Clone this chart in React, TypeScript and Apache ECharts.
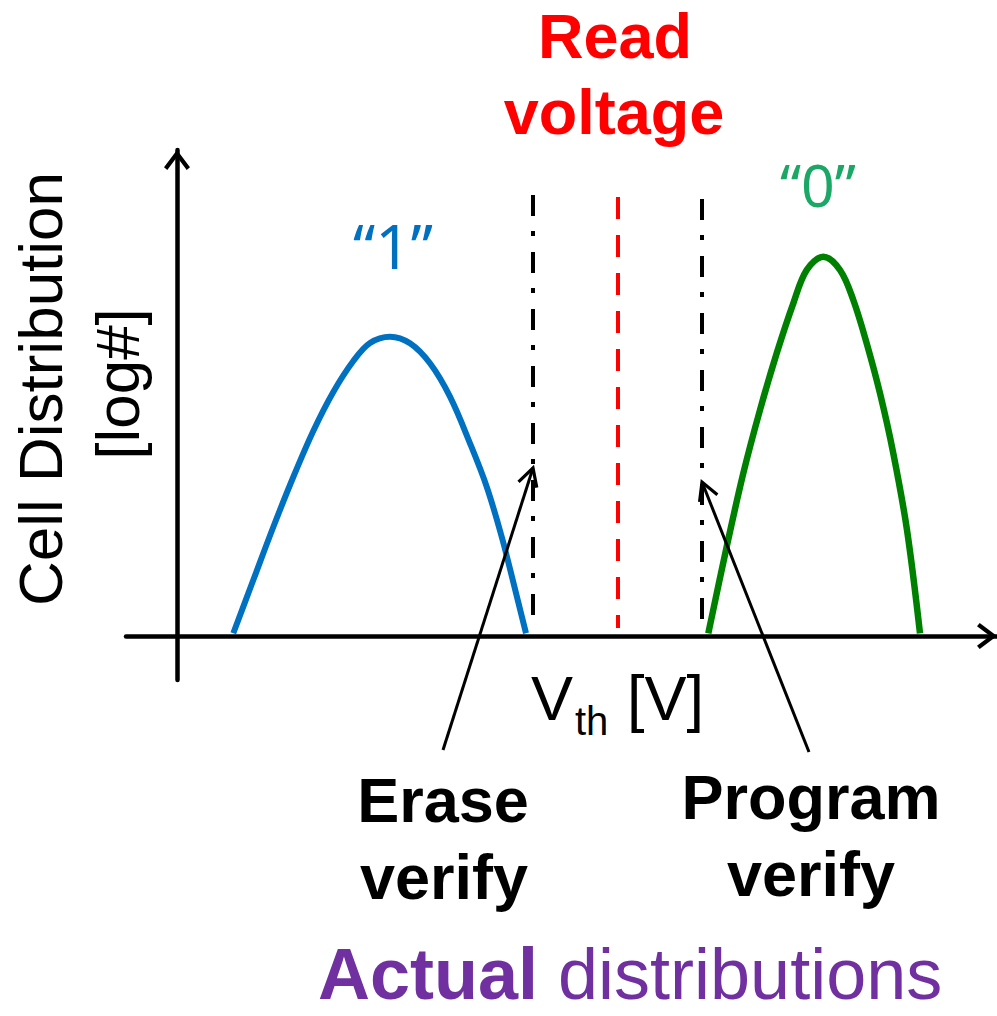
import React, { useEffect, useRef } from "react";
import * as echarts from "echarts";

// Erased cells, state "1": threshold voltage (arb. units) vs log cell count (arb. units)
const erasedVth = [5.63, 7.63, 9.63, 11.63, 13.63, 15.63, 17.63, 19.3, 21.3, 23.3, 25.3, 27.3, 29.3, 30.97, 32.47, 33.7, 34.9];
const erasedLogCount = [0.27, 5.6, 10.9, 15.9, 20.5, 24.4, 27.5, 29.3, 29.93, 29.27, 27.27, 23.93, 19.27, 14.93, 9.93, 5.1, 0.27];

// Programmed cells, state "0"
const programmedVth = [53.13, 54.97, 56.63, 58.3, 59.97, 61.63, 62.97, 64.63, 66.3, 67.63, 68.97, 70.3, 71.63, 73.0, 74.3];
const programmedLogCount = [0.27, 8.93, 16.27, 22.6, 28.27, 33.27, 36.6, 37.93, 36.6, 33.6, 29.27, 24.27, 18.27, 10.6, 0.27];

// Reference levels (Vth) and the vertical extent of their marker lines
const levelNames = ["Erase verify", "Read voltage", "Program verify"];
const levelVth = [35.6, 44.1, 52.5];
const levelTop = [44.1, 43.9, 43.7];
const levelBottom = [0.9, 0.8, 0.5];

// Annotation arrows: tail (x, y) -> tip (x, y)
const arrowTailX = [26.6, 63.2];
const arrowTailY = [-11.4, -11.6];
const arrowTipX = [35.6, 52.5];
const arrowTipY = [16.8, 15.4];

const SANS = "'Liberation Sans', Arial, Helvetica, sans-serif";

export default function App() {
  const ref = useRef<HTMLDivElement>(null);

  useEffect(() => {
    document.body.style.margin = "0";
    const chart = echarts.init(ref.current!, null, { renderer: "svg" });

    const chevron = "path://M12,0 L24,16 L21,18.5 L12,6.5 L3,18.5 L0,16 Z";

    const levelSeries = levelNames.map((name, i) => ({
      name,
      type: "line",
      data: [
        [levelVth[i], levelTop[i]],
        [levelVth[i], levelBottom[i]],
      ],
      showSymbol: false,
      silent: true,
      z: 3,
      lineStyle: {
        color: i === 1 ? "#FF0000" : "#000000",
        width: 4,
        type: i === 1 ? [22, 16] : [21, 15, 5, 16],
        cap: "butt",
      },
    }));

    chart.setOption({
      animation: false,
      backgroundColor: "#ffffff",
      grid: { left: 126, right: 0, top: 150, bottom: 336, containLabel: false },
      xAxis: {
        type: "value",
        min: -5.1,
        max: 82,
        axisLine: {
          onZero: true,
          lineStyle: { color: "#000", width: 4.5 },
          symbol: ["none", chevron],
          symbolSize: [26, 20],
          symbolOffset: [0, -10],
        },
        axisTick: { show: false },
        axisLabel: { show: false },
        splitLine: { show: false },
      },
      yAxis: {
        type: "value",
        min: -4.4,
        max: 48.6,
        axisLine: {
          show: true,
          onZero: true,
          lineStyle: { color: "#000", width: 4.5 },
          symbol: ["none", chevron],
          symbolSize: [26, 20],
          symbolOffset: [0, -10],
        },
        axisTick: { show: false },
        axisLabel: { show: false },
        splitLine: { show: false },
      },
      series: [
        {
          name: "1",
          type: "line",
          data: erasedVth.map((v, i) => [v, erasedLogCount[i]]),
          smooth: 0.35,
          showSymbol: false,
          z: 4,
          lineStyle: { color: "#0070C0", width: 6 },
        },
        {
          name: "0",
          type: "line",
          data: programmedVth.map((v, i) => [v, programmedLogCount[i]]),
          smooth: 0.35,
          showSymbol: false,
          z: 4,
          lineStyle: { color: "#008000", width: 6.5 },
        },
        ...levelSeries,
        {
          name: "arrows",
          type: "custom",
          z: 6,
          clip: false,
          encode: { x: [0, 2], y: [1, 3] },
          data: arrowTailX.map((x, i) => [x, arrowTailY[i], arrowTipX[i], arrowTipY[i]]),
          renderItem: (_params: any, api: any) => {
            const p1 = api.coord([api.value(0), api.value(1)]);
            const p2 = api.coord([api.value(2), api.value(3)]);
            const ang = Math.atan2(p1[1] - p2[1], p1[0] - p2[0]);
            const L = 20;
            const a = 0.5;
            const h1 = [p2[0] + L * Math.cos(ang + a), p2[1] + L * Math.sin(ang + a)];
            const h2 = [p2[0] + L * Math.cos(ang - a), p2[1] + L * Math.sin(ang - a)];
            return {
              type: "group",
              children: [
                {
                  type: "line",
                  shape: { x1: p1[0], y1: p1[1], x2: p2[0], y2: p2[1] },
                  style: { stroke: "#000", lineWidth: 3 },
                },
                {
                  type: "polyline",
                  shape: { points: [h1, p2, h2] },
                  style: { stroke: "#000", lineWidth: 3.2, fill: null },
                },
              ],
            };
          },
        },
      ],
      graphic: [
        {
          type: "text",
          x: 615,
          y: 36,
          style: { text: "Read", fill: "#FF0000", font: `bold 63px ${SANS}`, align: "center", verticalAlign: "middle" },
        },
        {
          type: "text",
          x: 614,
          y: 112,
          style: { text: "voltage", fill: "#FF0000", font: `bold 63px ${SANS}`, align: "center", verticalAlign: "middle" },
        },
        {
          type: "text",
          x: 393,
          y: 245,
          style: { text: "\u201C1\u201D", fill: "#0070C0", font: `62px 'Noto Sans', ${SANS}`, align: "center", verticalAlign: "middle" },
        },
        {
          type: "text",
          x: 818,
          y: 184,
          style: { text: "\u201C0\u201D", fill: "#1BA866", font: `59px 'Noto Sans', ${SANS}`, align: "center", verticalAlign: "middle" },
        },
        {
          type: "text",
          x: 40,
          y: 389,
          rotation: Math.PI / 2,
          style: { text: "Cell Distribution", fill: "#000", font: `62px ${SANS}`, align: "center", verticalAlign: "middle" },
        },
        {
          type: "text",
          x: 117,
          y: 384,
          rotation: Math.PI / 2,
          style: { text: "[log#]", fill: "#000", font: `62px ${SANS}`, align: "center", verticalAlign: "middle" },
        },
        {
          type: "text",
          x: 531,
          y: 698,
          style: { text: "V", fill: "#000", font: `63px ${SANS}`, align: "left", verticalAlign: "middle" },
        },
        {
          type: "text",
          x: 575,
          y: 721,
          style: { text: "th", fill: "#000", font: `40px ${SANS}`, align: "left", verticalAlign: "middle" },
        },
        {
          type: "text",
          x: 627,
          y: 698,
          style: { text: "[V]", fill: "#000", font: `63px ${SANS}`, align: "left", verticalAlign: "middle" },
        },
        {
          type: "text",
          x: 443,
          y: 800,
          style: { text: "Erase", fill: "#000", font: `bold 63px ${SANS}`, align: "center", verticalAlign: "middle" },
        },
        {
          type: "text",
          x: 444,
          y: 877,
          style: { text: "verify", fill: "#000", font: `bold 63px ${SANS}`, align: "center", verticalAlign: "middle" },
        },
        {
          type: "text",
          x: 811,
          y: 797,
          style: { text: "Program", fill: "#000", font: `bold 63px ${SANS}`, align: "center", verticalAlign: "middle" },
        },
        {
          type: "text",
          x: 811,
          y: 874,
          style: { text: "verify", fill: "#000", font: `bold 63px ${SANS}`, align: "center", verticalAlign: "middle" },
        },
        {
          type: "text",
          x: 318,
          y: 974,
          style: {
            text: "{b|Actual} {r|distributions}",
            align: "left",
            verticalAlign: "middle",
            lineHeight: 60,
            rich: {
              b: { fill: "#7030A0", font: `bold 72px ${SANS}`, lineHeight: 60 },
              r: { fill: "#7030A0", font: `72px ${SANS}`, lineHeight: 60 },
            },
            fill: "#7030A0",
            font: `72px ${SANS}`,
          },
        },
      ],
    });

    return () => chart.dispose();
  }, []);

  return (
    <div
      ref={ref}
      style={{ position: "absolute", left: 0, top: 0, width: 997, height: 1016, background: "#fff" }}
    />
  );
}
